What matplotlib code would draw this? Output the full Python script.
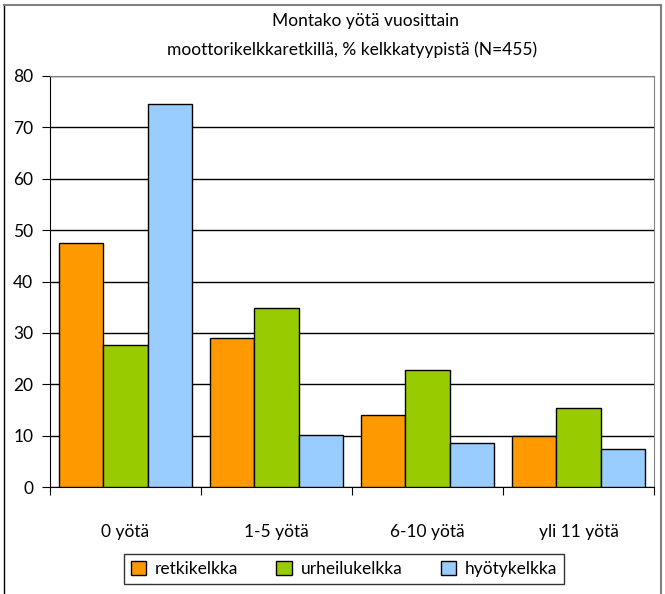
import numpy as np
import matplotlib
matplotlib.use('agg')
import matplotlib.pyplot as plt
from matplotlib.lines import Line2D

categories = ['0 yötä', '1-5 yötä', '6-10 yötä', 'yli 11 yötä']
series_names = ['retkikelkka', 'urheilukelkka', 'hyötykelkka']
retki = [47.5, 29.0, 14.0, 9.9]
urheilu = [27.6, 34.8, 22.8, 15.4]
hyoty = [74.5, 10.1, 8.6, 7.4]
colors = ['#FF9900', '#99CC00', '#99CCFF']

plt.rcParams['font.family'] = ['Lato', 'DejaVu Sans']

W, H = 665, 594
fig = plt.figure(figsize=(W/100, H/100), dpi=100)
ax = fig.add_axes([50/W, 1-487/H, (654-50)/W, (487-76)/H])

x = np.arange(len(categories))
w = 0.2935
for i, (vals, name) in enumerate(zip([retki, urheilu, hyoty], series_names)):
	ax.bar(x + (i-1)*w, vals, width=w, color=colors[i], edgecolor='black',
		linewidth=1, label=name, zorder=3)

ax.set_xlim(-0.5, len(categories)-0.5)
ax.set_ylim(0, 80)
ax.set_yticks(range(0, 81, 10))
ax.yaxis.grid(True, color='black', linewidth=1, zorder=0)
ax.tick_params(axis='y', direction='out', length=6, labelsize=12.5, pad=6)

# category boundary ticks, labels centred between them
ax.set_xticks(np.arange(-0.5, len(categories), 1))
ax.set_xticklabels([])
ax.tick_params(axis='x', which='major', direction='out', length=6)
ax.set_xticks(x, minor=True)
ax.set_xticklabels(categories, minor=True, fontsize=12.5)
ax.tick_params(axis='x', which='minor', length=0, pad=27)

ax.spines['top'].set_color('#808080')
ax.spines['right'].set_color('#808080')
ax.spines['left'].set_color('black')
ax.spines['bottom'].set_color('black')

fig.text(366/W, 1-21/H, 'Montako yötä vuosittain', ha='center', va='center', fontsize=12.5)
fig.text(352/W, 1-50/H, 'moottorikelkkaretkillä, % kelkkatyypistä (N=455)', ha='center', va='center', fontsize=12.5)

leg = fig.legend(loc='center', bbox_to_anchor=(344/W, 1-569/H), ncol=3, fontsize=12.5,
	frameon=True, fancybox=False, edgecolor='black', handlelength=0.9, handleheight=0.9,
	handletextpad=0.5, columnspacing=2.2, borderpad=0.4)
leg.get_frame().set_linewidth(1)

# outer chart border
fig.add_artist(Line2D([4/W, 4/W], [0, 1-5/H], color='black', linewidth=1))
fig.add_artist(Line2D([4/W, 661/W], [1-5/H, 1-5/H], color='#808080', linewidth=1.5))
fig.add_artist(Line2D([661/W, 661/W], [0, 1-5/H], color='#808080', linewidth=1.5))

plt.savefig('out.png', dpi=100)
plt.close()
